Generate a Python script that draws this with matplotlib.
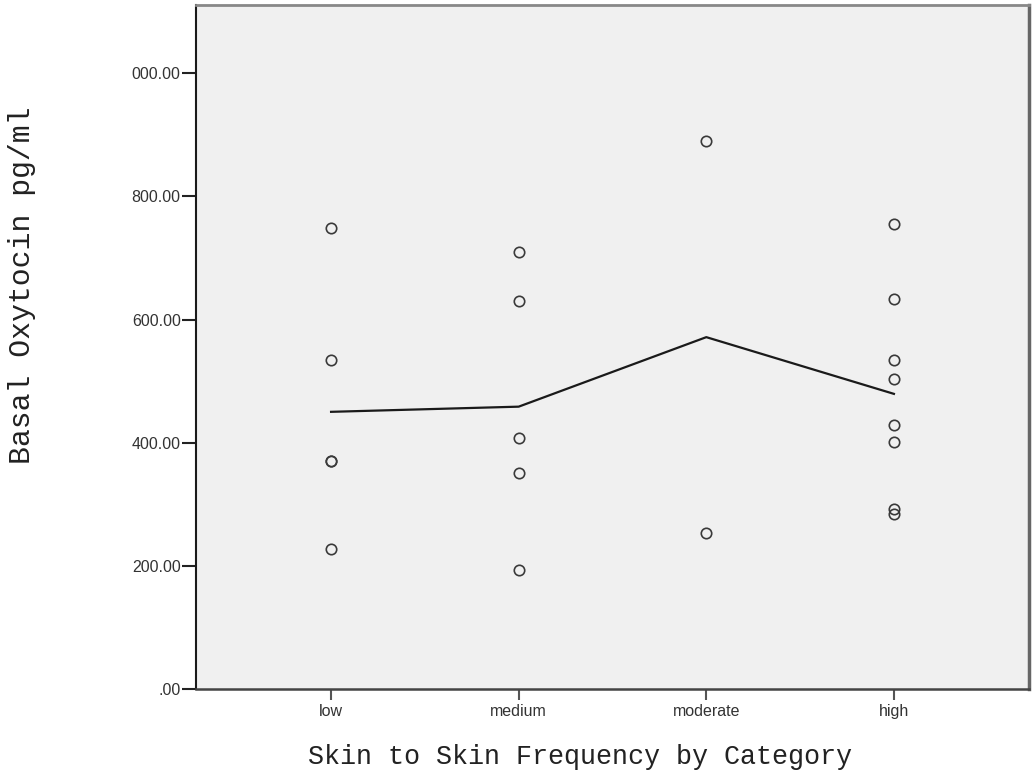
import numpy as np
import matplotlib.pyplot as plt

categories = ['low', 'medium', 'moderate', 'high']
low = [748, 534, 371, 371, 227]
medium = [709, 631, 408, 351, 194]
moderate = [890, 253]
high = [755, 634, 535, 504, 428, 402, 293, 284]
groups = [low, medium, moderate, high]

ytick_vals = [0, 200, 400, 600, 800, 1000]
ytick_labels = ['.00', '200.00', '400.00', '600.00', '800.00', '000.00']

fig = plt.figure(figsize=(10.34, 7.73), dpi=100)
ax = fig.add_axes([196/1034, 84/773, 833/1034, 684/773])
ax.set_facecolor('#f0f0f0')

for i, g in enumerate(groups):
    ax.plot([i]*len(g), g, 'o', ms=7.5, mfc='none', mec='#3a3a3a', mew=1.2, zorder=3)

means = [np.mean(g) for g in groups]
ax.plot(range(len(categories)), means, color='#1a1a1a', lw=1.6, zorder=2)

ax.set_xlim(-0.72, 3.72)
ax.set_ylim(0, 1111)
ax.set_xticks(range(len(categories)))
ax.set_xticklabels(categories)
ax.set_yticks(ytick_vals)
ax.set_yticklabels(ytick_labels)
ax.tick_params(axis='y', length=10, width=1.5, color='#222222', labelsize=11.5, labelcolor='#333333', pad=1)
ax.tick_params(axis='x', length=8, width=1.5, color='#555555', labelsize=11.5, labelcolor='#333333', pad=3)
for lab in ax.get_xticklabels() + ax.get_yticklabels():
    lab.set_fontfamily('Liberation Sans')

ax.spines['left'].set_color('#1a1a1a')
ax.spines['left'].set_linewidth(1.5)
ax.spines['bottom'].set_color('#444444')
ax.spines['bottom'].set_linewidth(1.8)
ax.spines['top'].set_color('#888888')
ax.spines['top'].set_linewidth(2)
ax.spines['right'].set_color('#666666')
ax.spines['right'].set_linewidth(2.5)

fig.text(580/1034, 1 - 757/773, 'Skin to Skin Frequency by Category', family='Liberation Mono',
         fontsize=19.3, ha='center', va='center', color='#222222')
fig.text(22/1034, 1 - 285/773, 'Basal Oxytocin pg/ml', family='Liberation Mono',
         fontsize=21.5, ha='center', va='center', rotation=90, color='#222222')

fig.savefig('out.png', dpi=100)
